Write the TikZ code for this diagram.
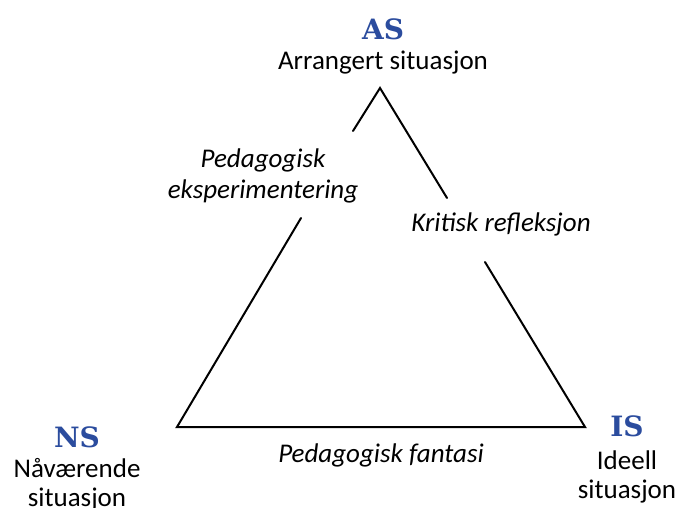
\documentclass[tikz,border=0pt]{standalone}
\usepackage{fontspec}
\setmainfont{Carlito}
\newfontfamily\headfont{DejaVu Serif}
\definecolor{headblue}{HTML}{2B4C9E}
\begin{document}
\begin{tikzpicture}[x=1pt,y=-1pt,
  head/.style={font=\headfont\bfseries\fontsize{28}{30}\selectfont, text=headblue, inner sep=0pt},
  lbl/.style={font=\fontsize{27}{29}\selectfont, inner sep=0pt, align=center},
  ilbl/.style={font=\itshape\fontsize{27}{31}\selectfont, inner sep=0pt, align=center},
  side/.style={line width=2pt, line cap=round}]
\useasboundingbox (0,0) rectangle (699,508);
\coordinate (top) at (380,88);
\coordinate (bl) at (177,427);
\coordinate (br) at (585,427);
\coordinate (l1) at (353,131);
\coordinate (l2) at (301,218);
\coordinate (r1) at (447,198);
\coordinate (r2) at (485,262);
\draw[side] (l1) -- (top) -- (r1);
\draw[side] (l2) -- (bl) -- (br) -- (r2);
\node[head] (as) at (383,29) {AS};
\node[lbl] (ast) at (383,63) {Arrangert situasjon};
\node[head] (ns) at (77,437) {NS};
\node[lbl] (nst) at (77,485) {Nåværende\\situasjon};
\node[head] (is) at (627,426) {IS};
\node[lbl] (ist) at (627,477) {Ideell\\situasjon};
\node[ilbl] (pe) at (263,176) {Pedagogisk\\eksperimentering};
\node[ilbl] (kr) at (501,224) {Kritisk refleksjon};
\node[ilbl] (pf) at (381,455) {Pedagogisk fantasi};
\end{tikzpicture}
\end{document}
